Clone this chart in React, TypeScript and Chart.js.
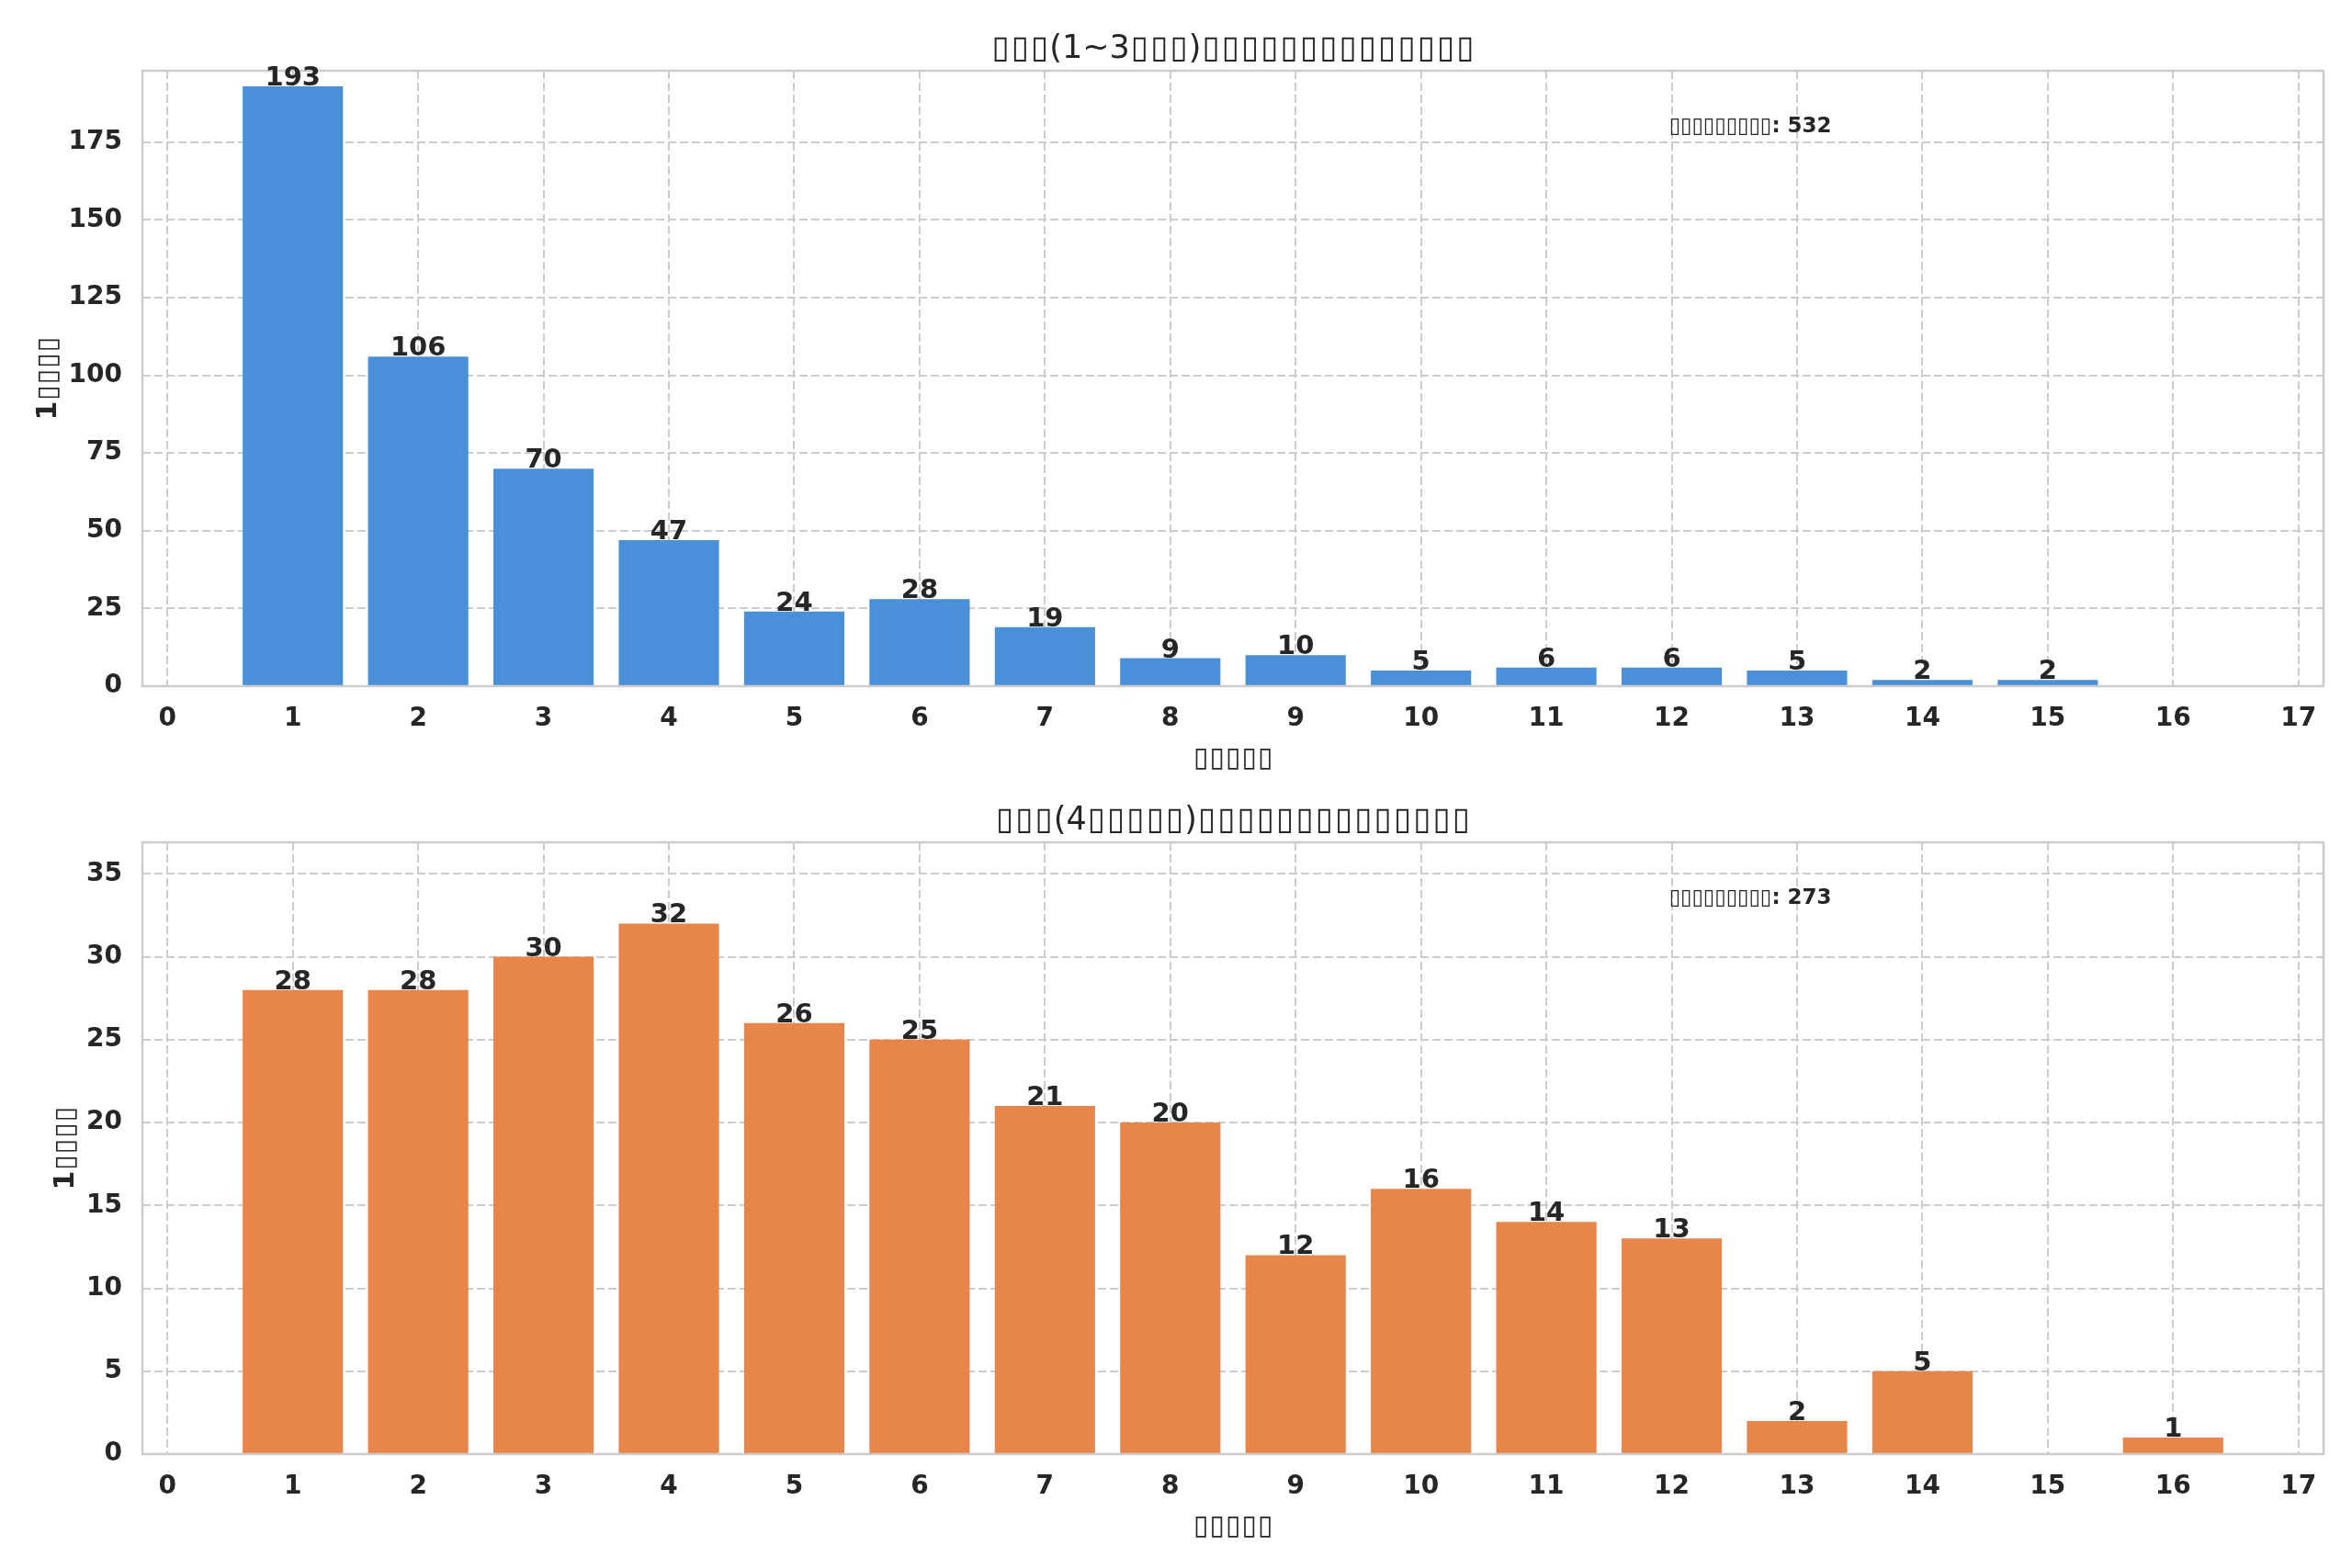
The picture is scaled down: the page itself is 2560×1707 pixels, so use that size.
import { useEffect, useRef } from "react";
import { Chart, registerables, Plugin } from "chart.js";

Chart.register(...registerables);

// the original labels were CJK text rendered without a font (tofu boxes)
const BOX = "▯";

const bins = [1, 2, 3, 4, 5, 6, 7, 8, 9, 10, 11, 12, 13, 14, 15, 16];
const shortCounts = [193, 106, 70, 47, 24, 28, 19, 9, 10, 5, 6, 6, 5, 2, 2, 0];
const longCounts = [28, 28, 30, 32, 26, 25, 21, 20, 12, 16, 14, 13, 2, 5, 0, 1];

const xTicks = [0, 1, 2, 3, 4, 5, 6, 7, 8, 9, 10, 11, 12, 13, 14, 15, 16, 17];
const shortYTicks = [0, 25, 50, 75, 100, 125, 150, 175];
const longYTicks = [0, 5, 10, 15, 20, 25, 30, 35];

const shortTitle = "▯▯▯(1~3▯▯▯)▯▯▯▯▯▯▯▯▯▯▯▯▯▯";
const longTitle = "▯▯▯(4▯▯▯▯▯)▯▯▯▯▯▯▯▯▯▯▯▯▯▯";
const xLabel = "▯▯▯▯▯";
const yLabel = "1▯▯▯▯";
const totalLabel = "▯▯▯▯▯▯▯▯▯";

const FONT = "'DejaVu Sans', sans-serif";
const TEXT = "#262626";
const GRID = "#cccccc";

function drawMixed(
  ctx: CanvasRenderingContext2D,
  text: string,
  x: number,
  y: number,
  align: "left" | "center",
  boxAdv: number
) {
  // split into runs of boxes / normal text so the boxes get tofu-like spacing
  const runs: { t: string; box: boolean }[] = [];
  for (const c of Array.from(text)) {
    const box = c === BOX;
    const last = runs[runs.length - 1];
    if (last && last.box === box) last.t += c;
    else runs.push({ t: c, box });
  }
  const widths = runs.map((r) =>
    r.box ? Array.from(r.t).length * boxAdv : ctx.measureText(r.t).width
  );
  const total = widths.reduce((a, b) => a + b, 0);
  let cx = align === "center" ? x - total / 2 : x;
  runs.forEach((r, i) => {
    if (r.box) {
      ctx.textAlign = "center";
      Array.from(r.t).forEach((c, j) => {
        ctx.fillText(c, cx + boxAdv * j + boxAdv / 2, y);
      });
    } else {
      ctx.textAlign = "left";
      ctx.fillText(r.t, cx, y);
    }
    cx += widths[i];
  });
}

interface PanelProps {
  counts: number[];
  color: string;
  title: string;
  yMax: number;
  yTicks: number[];
  height: number;
  padTop: number;
  xAxisHeight: number;
}

function HistPanel({ counts, color, title, yMax, yTicks, height, padTop, xAxisHeight }: PanelProps) {
  const canvasRef = useRef<HTMLCanvasElement>(null);

  useEffect(() => {
    if (!canvasRef.current) return;
    const ctx = canvasRef.current.getContext("2d");
    if (!ctx) return;

    const total = counts.reduce((a, b) => a + b, 0);

    const decor: Plugin<"bar"> = {
      id: "decor",
      afterDraw(chart) {
        const c = chart.ctx;
        const { left, right, top, bottom } = chart.chartArea;
        const w = right - left;
        const h = bottom - top;
        c.save();

        // frame
        c.strokeStyle = GRID;
        c.lineWidth = 2.5;
        c.strokeRect(left, top, w, h);

        c.fillStyle = TEXT;
        c.textBaseline = "alphabetic";

        // value labels
        c.font = `bold 29px ${FONT}`;
        c.textAlign = "center";
        const meta = chart.getDatasetMeta(0);
        meta.data.forEach((el: any, i) => {
          if (!counts[i]) return;
          c.fillText(String(counts[i]), el.x, el.y - 1);
        });

        // title
        c.font = `35px ${FONT}`;
        drawMixed(c, title, (left + right) / 2, top - 14, "center", 21.3);

        // x label
        c.font = `bold 30px ${FONT}`;
        drawMixed(c, xLabel, (left + right) / 2, bottom + 87, "center", 17.5);

        // y label
        c.font = `bold 28px ${FONT}`;
        const tickW = Math.max(
          ...chart.scales.y.ticks.map((t) => c.measureText(String(t.value)).width)
        );
        const lx = left - 22 - tickW - 26;
        c.font = `bold 30px ${FONT}`;
        c.translate(lx, (top + bottom) / 2);
        c.rotate(-Math.PI / 2);
        drawMixed(c, yLabel, 0, 12, "center", 17.5);
        c.setTransform(1, 0, 0, 1, 0, 0);

        // total annotation
        c.font = `bold 23px ${FONT}`;
        drawMixed(c, `${totalLabel}: ${total}`, left + 0.7 * w, bottom - 0.9 * h, "left", 12.4);

        c.restore();
      },
    };

    const tickFont = { family: FONT, size: 28, weight: "bold" as const };

    const chart = new Chart(ctx, {
      type: "bar",
      data: {
        datasets: [
          {
            data: bins.map((x, i) => ({ x, y: counts[i] })),
            backgroundColor: color,
            borderWidth: 0,
            barPercentage: 0.8,
            categoryPercentage: 1,
          },
        ],
      },
      options: {
        animation: false,
        responsive: false,
        devicePixelRatio: 1,
        layout: { padding: { left: 0, right: 31, top: padTop, bottom: 0 } },
        plugins: {
          legend: { display: false },
          tooltip: { enabled: false },
          title: { display: false },
        },
        scales: {
          x: {
            type: "linear",
            min: -0.2,
            max: 17.2,
            offset: false,
            afterBuildTicks: (s: any) => {
              s.ticks = xTicks.map((v) => ({ value: v }));
            },
            afterFit: (s: any) => {
              s.height = xAxisHeight;
            },
            grid: { color: GRID, lineWidth: 2, drawTicks: false, offset: false },
            border: { display: false, dash: [9, 4] },
            ticks: {
              font: tickFont,
              color: TEXT,
              padding: 19,
              maxRotation: 0,
              autoSkip: false,
              callback: (v) => String(v),
            },
          },
          y: {
            min: 0,
            max: yMax,
            afterBuildTicks: (s: any) => {
              s.ticks = yTicks.map((v) => ({ value: v }));
            },
            afterFit: (s: any) => {
              s.width = 155;
            },
            grid: { color: GRID, lineWidth: 2, drawTicks: false },
            border: { display: false, dash: [9, 4] },
            ticks: {
              font: tickFont,
              color: TEXT,
              padding: 22,
              autoSkip: false,
              callback: (v) => String(v),
            },
          },
        },
      },
      plugins: [decor],
    });

    return () => {
      chart.destroy();
    };
  }, [counts, color, title, yMax, yTicks, padTop, xAxisHeight]);

  return <canvas ref={canvasRef} width={2560} height={height} style={{ display: "block" }} />;
}

export default function App() {
  return (
    <div style={{ position: "absolute", left: 0, top: 0, width: 2560, height: 1707, background: "#fff" }}>
      <HistPanel
        counts={shortCounts}
        color="#4a90d9"
        title={shortTitle}
        yMax={198}
        yTicks={shortYTicks}
        height={853}
        padTop={77}
        xAxisHeight={106}
      />
      <HistPanel
        counts={longCounts}
        color="#e8854a"
        title={longTitle}
        yMax={36.9}
        yTicks={longYTicks}
        height={854}
        padTop={64}
        xAxisHeight={124}
      />
    </div>
  );
}
